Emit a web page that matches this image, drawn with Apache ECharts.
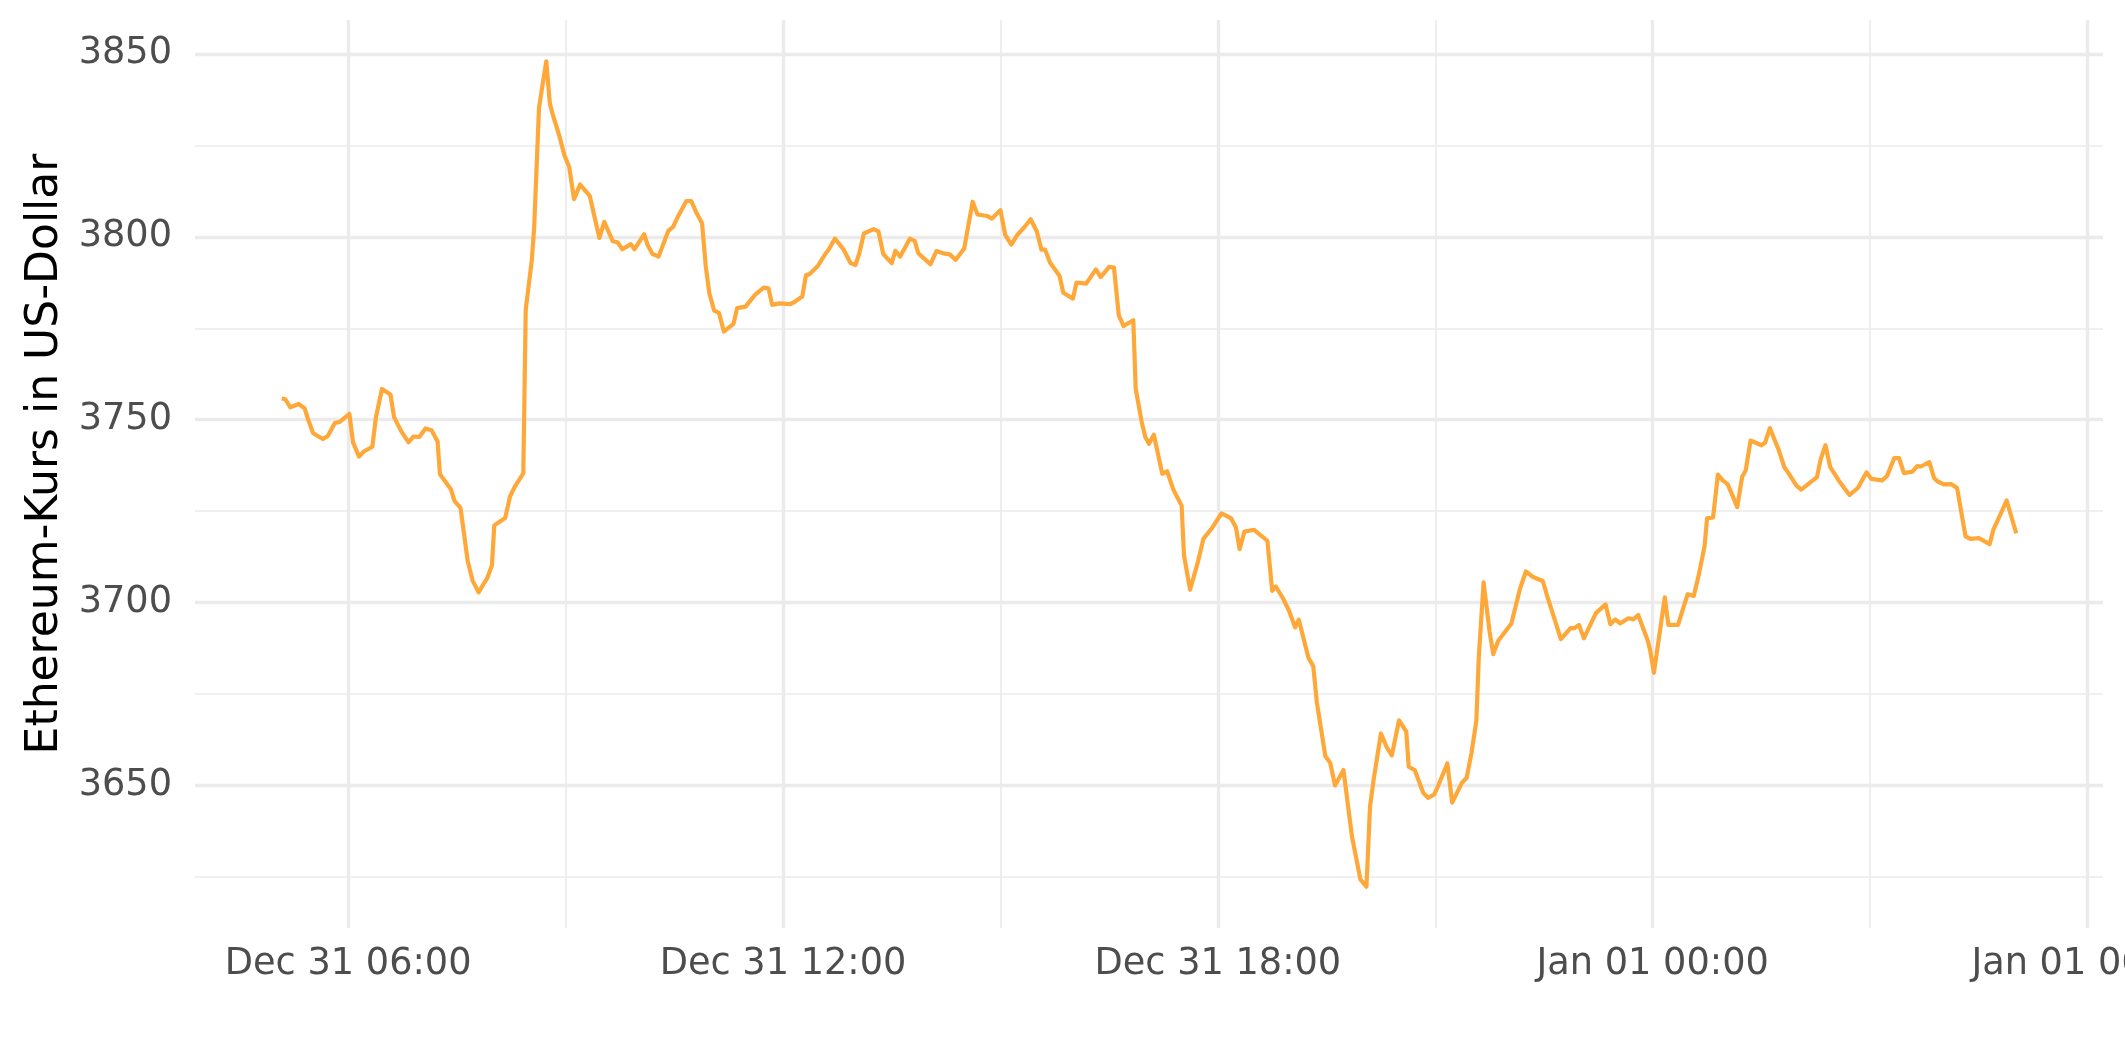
<!DOCTYPE html>
<html><head><meta charset="utf-8">
<script src="https://cdn.jsdelivr.net/npm/echarts@6/dist/echarts.min.js"></script>
<style>html,body{margin:0;padding:0;background:#fff}#chart{width:2125px;height:1062px}</style>
</head><body><div id="chart"></div>
<script>
const times = [
'2021-12-31 05:05','2021-12-31 05:08','2021-12-31 05:12','2021-12-31 05:19','2021-12-31 05:24','2021-12-31 05:27','2021-12-31 05:31','2021-12-31 05:39','2021-12-31 05:43','2021-12-31 05:49','2021-12-31 05:53',
'2021-12-31 06:01','2021-12-31 06:04','2021-12-31 06:09','2021-12-31 06:13','2021-12-31 06:20','2021-12-31 06:23','2021-12-31 06:28','2021-12-31 06:35','2021-12-31 06:38','2021-12-31 06:44','2021-12-31 06:50','2021-12-31 06:54','2021-12-31 06:59',
'2021-12-31 07:04','2021-12-31 07:09','2021-12-31 07:14','2021-12-31 07:16','2021-12-31 07:21','2021-12-31 07:25','2021-12-31 07:28','2021-12-31 07:33','2021-12-31 07:39','2021-12-31 07:43','2021-12-31 07:48','2021-12-31 07:52','2021-12-31 07:55','2021-12-31 07:59',
'2021-12-31 08:01','2021-12-31 08:05','2021-12-31 08:10','2021-12-31 08:14','2021-12-31 08:18','2021-12-31 08:25','2021-12-31 08:27','2021-12-31 08:32','2021-12-31 08:34','2021-12-31 08:38','2021-12-31 08:44','2021-12-31 08:47','2021-12-31 08:49','2021-12-31 08:55','2021-12-31 08:59',
'2021-12-31 09:03','2021-12-31 09:07','2021-12-31 09:12','2021-12-31 09:20','2021-12-31 09:28','2021-12-31 09:32','2021-12-31 09:39','2021-12-31 09:43','2021-12-31 09:47','2021-12-31 09:51','2021-12-31 09:54','2021-12-31 09:57',
'2021-12-31 10:05','2021-12-31 10:08','2021-12-31 10:12','2021-12-31 10:17','2021-12-31 10:25','2021-12-31 10:29','2021-12-31 10:33','2021-12-31 10:40','2021-12-31 10:44','2021-12-31 10:48','2021-12-31 10:53','2021-12-31 10:56','2021-12-31 10:59',
'2021-12-31 11:03','2021-12-31 11:07','2021-12-31 11:11','2021-12-31 11:19','2021-12-31 11:22','2021-12-31 11:29','2021-12-31 11:37','2021-12-31 11:44','2021-12-31 11:48','2021-12-31 11:51','2021-12-31 11:57',
'2021-12-31 12:06','2021-12-31 12:10','2021-12-31 12:16','2021-12-31 12:19','2021-12-31 12:22','2021-12-31 12:29','2021-12-31 12:35','2021-12-31 12:38','2021-12-31 12:43','2021-12-31 12:50','2021-12-31 12:56',
'2021-12-31 13:00','2021-12-31 13:03','2021-12-31 13:07','2021-12-31 13:15','2021-12-31 13:19','2021-12-31 13:23','2021-12-31 13:30','2021-12-31 13:33','2021-12-31 13:37','2021-12-31 13:45','2021-12-31 13:49','2021-12-31 13:52','2021-12-31 13:56',
'2021-12-31 14:02','2021-12-31 14:07','2021-12-31 14:14','2021-12-31 14:18','2021-12-31 14:23','2021-12-31 14:30','2021-12-31 14:37','2021-12-31 14:41','2021-12-31 14:49','2021-12-31 14:53',
'2021-12-31 15:00','2021-12-31 15:04','2021-12-31 15:09','2021-12-31 15:14','2021-12-31 15:20','2021-12-31 15:25','2021-12-31 15:30','2021-12-31 15:34','2021-12-31 15:37','2021-12-31 15:41','2021-12-31 15:49','2021-12-31 15:52',
'2021-12-31 16:00','2021-12-31 16:03','2021-12-31 16:11','2021-12-31 16:19','2021-12-31 16:23','2021-12-31 16:30','2021-12-31 16:34','2021-12-31 16:38','2021-12-31 16:42','2021-12-31 16:50','2021-12-31 16:52','2021-12-31 16:57',
'2021-12-31 17:00','2021-12-31 17:03','2021-12-31 17:07','2021-12-31 17:14','2021-12-31 17:18','2021-12-31 17:23','2021-12-31 17:30','2021-12-31 17:32','2021-12-31 17:37','2021-12-31 17:43','2021-12-31 17:48','2021-12-31 17:55',
'2021-12-31 18:03','2021-12-31 18:11','2021-12-31 18:15','2021-12-31 18:18','2021-12-31 18:22','2021-12-31 18:30','2021-12-31 18:41','2021-12-31 18:45','2021-12-31 18:48','2021-12-31 18:54','2021-12-31 18:59',
'2021-12-31 19:04','2021-12-31 19:07','2021-12-31 19:15','2021-12-31 19:19','2021-12-31 19:22','2021-12-31 19:29','2021-12-31 19:33','2021-12-31 19:37','2021-12-31 19:44','2021-12-31 19:51','2021-12-31 19:58',
'2021-12-31 20:03','2021-12-31 20:06','2021-12-31 20:09','2021-12-31 20:15','2021-12-31 20:20','2021-12-31 20:24','2021-12-31 20:30','2021-12-31 20:36','2021-12-31 20:38','2021-12-31 20:43','2021-12-31 20:50','2021-12-31 20:54','2021-12-31 20:59',
'2021-12-31 21:02','2021-12-31 21:10','2021-12-31 21:14','2021-12-31 21:22','2021-12-31 21:26','2021-12-31 21:30','2021-12-31 21:34','2021-12-31 21:36','2021-12-31 21:40','2021-12-31 21:45','2021-12-31 21:48','2021-12-31 21:52',
'2021-12-31 22:03','2021-12-31 22:10','2021-12-31 22:15','2021-12-31 22:21','2021-12-31 22:29','2021-12-31 22:33','2021-12-31 22:44','2021-12-31 22:52','2021-12-31 22:55','2021-12-31 22:59',
'2021-12-31 23:03','2021-12-31 23:13','2021-12-31 23:21','2021-12-31 23:25','2021-12-31 23:29','2021-12-31 23:33','2021-12-31 23:40','2021-12-31 23:44','2021-12-31 23:48','2021-12-31 23:56','2021-12-31 23:58',
'2022-01-01 00:01','2022-01-01 00:10','2022-01-01 00:13','2022-01-01 00:21','2022-01-01 00:25','2022-01-01 00:29','2022-01-01 00:34','2022-01-01 00:38','2022-01-01 00:43','2022-01-01 00:45','2022-01-01 00:50','2022-01-01 00:54','2022-01-01 00:58',
'2022-01-01 01:02','2022-01-01 01:06','2022-01-01 01:10','2022-01-01 01:14','2022-01-01 01:17','2022-01-01 01:21','2022-01-01 01:30','2022-01-01 01:33','2022-01-01 01:37','2022-01-01 01:44','2022-01-01 01:49','2022-01-01 01:52','2022-01-01 01:59',
'2022-01-01 02:03','2022-01-01 02:10','2022-01-01 02:16','2022-01-01 02:19','2022-01-01 02:23','2022-01-01 02:27','2022-01-01 02:34','2022-01-01 02:39','2022-01-01 02:43','2022-01-01 02:50','2022-01-01 02:57',
'2022-01-01 03:01','2022-01-01 03:10','2022-01-01 03:14','2022-01-01 03:20','2022-01-01 03:24','2022-01-01 03:28','2022-01-01 03:35','2022-01-01 03:39','2022-01-01 03:42','2022-01-01 03:49','2022-01-01 03:53','2022-01-01 03:56',
'2022-01-01 04:01','2022-01-01 04:07','2022-01-01 04:12','2022-01-01 04:19','2022-01-01 04:23','2022-01-01 04:30','2022-01-01 04:39','2022-01-01 04:42','2022-01-01 04:49','2022-01-01 04:53','2022-01-01 05:01'
];
const prices = [
3755.8,3755.6,3753.4,3754.3,3753.1,3749.9,3746.3,3744.7,3745.5,3749.1,3749.4,
3751.6,3743.8,3739.9,3741.3,3742.6,3750.7,3758.4,3756.9,3750.7,3746.8,3743.8,3745.4,3745.3,
3747.6,3747.1,3744.1,3735.1,3732.8,3731.0,3727.8,3725.9,3711.3,3706.0,3702.8,3705.0,3706.6,3710.1,
3721.1,3722.0,3723.1,3729.0,3731.7,3735.3,3780.0,3793.5,3802.6,3835.3,3848.0,3836.4,3833.9,3827.4,3822.3,
3819.1,3810.3,3814.3,3811.2,3799.7,3804.1,3798.8,3798.5,3796.6,3797.4,3798.0,3796.6,
3800.7,3797.7,3795.3,3794.6,3801.6,3802.7,3805.5,3809.8,3809.8,3806.8,3803.7,3792.1,3784.6,
3779.8,3779.2,3774.1,3776.2,3780.5,3780.9,3784.2,3786.1,3785.9,3781.4,3781.8,
3781.6,3782.3,3783.7,3789.5,3789.8,3792.1,3795.3,3796.6,3799.5,3796.6,3792.8,
3792.3,3795.3,3800.9,3802.1,3801.5,3795.3,3792.8,3796.2,3794.6,3799.5,3798.9,3795.5,3794.3,
3792.5,3796.1,3795.4,3795.2,3793.7,3796.8,3809.6,3806.1,3805.7,3805.0,
3807.3,3800.5,3797.9,3800.5,3802.7,3804.8,3801.6,3796.5,3796.5,3793.0,3789.3,3784.7,
3783.1,3787.5,3787.2,3791.1,3789.0,3791.8,3791.6,3778.5,3775.6,3777.2,3758.4,3749.3,
3745.2,3743.4,3745.9,3735.2,3735.9,3731.0,3726.5,3712.8,3703.5,3710.5,3717.4,3720.3,
3724.4,3723.0,3720.5,3714.6,3719.4,3719.9,3716.9,3703.2,3704.4,3701.1,3697.7,
3693.2,3695.3,3684.9,3682.6,3672.6,3658.0,3656.2,3650.0,3654.2,3636.1,3624.3,
3622.3,3644.3,3651.6,3664.2,3660.3,3658.2,3667.8,3664.7,3655.1,3654.2,3648.0,3646.6,3647.5,
3649.6,3656.0,3645.3,3650.7,3652.1,3658.9,3667.6,3684.9,3705.5,3692.0,3685.9,3689.5,
3694.3,3703.6,3708.5,3707.0,3705.9,3701.4,3690.0,3693.0,3693.0,3693.9,
3690.2,3697.1,3699.5,3694.1,3695.4,3694.3,3695.7,3695.4,3696.6,3689.5,3686.8,
3680.8,3701.4,3693.9,3693.9,3698.2,3702.3,3701.8,3707.3,3715.5,3723.0,3723.3,3735.0,3733.4,
3732.4,3729.3,3726.1,3734.3,3736.1,3744.3,3743.0,3743.7,3747.7,3742.0,3737.0,3735.6,3732.0,
3730.9,3732.7,3734.3,3739.1,3743.0,3737.0,3733.4,3731.1,3729.4,3731.4,3735.6,
3733.8,3733.4,3734.6,3739.5,3739.5,3735.4,3735.8,3737.3,3737.2,3738.4,3734.0,3733.1,
3732.3,3732.4,3731.3,3718.1,3717.4,3717.6,3716.0,3719.9,3724.9,3727.9,3718.9
];
const xLabelTimes = ['2021-12-31 06:00','2021-12-31 12:00','2021-12-31 18:00','2022-01-01 00:00','2022-01-01 06:00'];
const xMinorTimes = ['2021-12-31 09:00','2021-12-31 15:00','2021-12-31 21:00','2022-01-01 03:00'];
const yLabelValues = [3650, 3700, 3750, 3800, 3850];
const yMinorValues = [3625, 3675, 3725, 3775, 3825];
const monthNames = ['Jan','Feb','Mar','Apr','May','Jun','Jul','Aug','Sep','Oct','Nov','Dec'];

function ts(s) {
  const [d, t] = s.split(' ');
  const [Y, M, D] = d.split('-').map(Number);
  const [h, m] = t.split(':').map(Number);
  return Date.UTC(Y, M - 1, D, h, m);
}
function pad(n) { return (n < 10 ? '0' : '') + n; }
function fmt(v) {
  const d = new Date(v);
  return monthNames[d.getUTCMonth()] + ' ' + pad(d.getUTCDate()) + ' ' + pad(d.getUTCHours()) + ':' + pad(d.getUTCMinutes());
}

const xs = times.map(ts);
const xMinD = Math.min(...xs), xMaxD = Math.max(...xs);
const xPad = (xMaxD - xMinD) * 0.05;
const yMinD = Math.min(...prices), yMaxD = Math.max(...prices);
const yPad = (yMaxD - yMinD) * 0.05;

const GRID = '#EBEBEB';
const majorW = 3.4, minorW = 1.7;
const gridLines = [];
xLabelTimes.forEach(t => gridLines.push({ xAxis: ts(t), lineStyle: { width: majorW } }));
xMinorTimes.forEach(t => gridLines.push({ xAxis: ts(t), lineStyle: { width: minorW } }));
yLabelValues.forEach(v => gridLines.push({ yAxis: v, lineStyle: { width: majorW } }));
yMinorValues.forEach(v => gridLines.push({ yAxis: v, lineStyle: { width: minorW } }));

const chart = echarts.init(document.getElementById('chart'), null, { renderer: 'canvas' });
chart.setOption({
  animation: false,
  backgroundColor: '#ffffff',
  textStyle: { fontFamily: 'DejaVu Sans' },
  grid: { left: 195, right: 22, top: 20, bottom: 134, containLabel: false, outerBoundsMode: 'none' },
  xAxis: {
    type: 'value',
    min: xMinD - xPad,
    max: xMaxD + xPad,
    scale: true,
    axisLine: { show: false },
    axisTick: { show: false },
    splitLine: { show: false },
    axisLabel: {
      customValues: xLabelTimes.map(ts),
      formatter: v => fmt(v),
      color: '#4D4D4D',
      fontSize: 36.7,
      fontFamily: 'DejaVu Sans',
      margin: 18,
      hideOverlap: false
    }
  },
  yAxis: {
    type: 'value',
    min: yMinD - yPad,
    max: yMaxD + yPad,
    scale: true,
    axisLine: { show: false },
    axisTick: { show: false },
    splitLine: { show: false },
    axisLabel: {
      customValues: yLabelValues,
      formatter: v => String(v),
      color: '#4D4D4D',
      fontSize: 36.7,
      fontFamily: 'DejaVu Sans',
      margin: 23
    },
    name: 'Ethereum-Kurs in US-Dollar',
    nameLocation: 'middle',
    nameGap: 127,
    nameTextStyle: { color: '#000000', fontSize: 44, fontFamily: 'DejaVu Sans', padding: [0, 0, 0, 40] }
  },
  series: [{
    type: 'line',
    data: xs.map((x, i) => [x, prices[i]]),
    showSymbol: false,
    symbol: 'none',
    z: 3,
    lineStyle: { color: '#FFA83A', width: 4.2, join: 'round' },
    markLine: {
      silent: true,
      z: 1,
      symbol: ['none', 'none'],
      label: { show: false },
      lineStyle: { color: GRID, type: 'solid' },
      emphasis: { disabled: true },
      animation: false,
      data: gridLines
    }
  }]
});
</script></body></html>
